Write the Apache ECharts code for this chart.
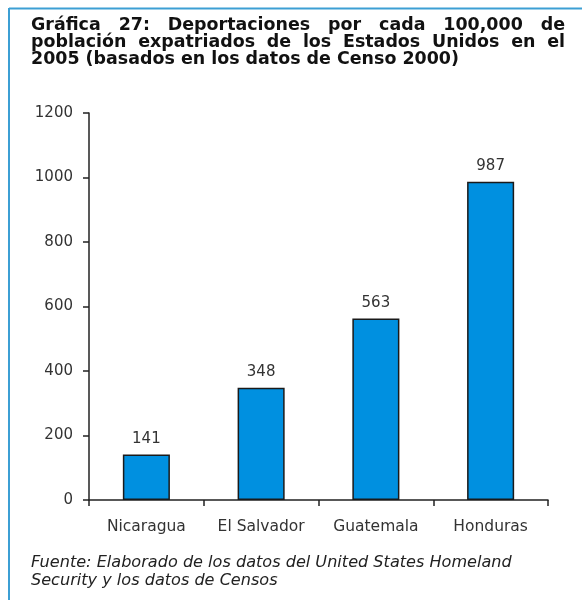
<!DOCTYPE html>
<html>
<head>
<meta charset="utf-8">
<script src="https://cdn.jsdelivr.net/npm/echarts@6/dist/echarts.min.js"></script>
<style>
  html, body { margin: 0; padding: 0; background: #fff; }
  #chart { width: 582px; height: 607px; }
</style>
</head>
<body>
<div id="chart"></div>
<script>
// datos
const paises = ["Nicaragua", "El Salvador", "Guatemala", "Honduras"];
const deportaciones = [141, 348, 563, 987];
const tituloLineas = [
  "Gráfica 27: Deportaciones por cada 100,000 de",
  "población expatriados de los Estados Unidos en el",
  "2005 (basados en los datos de Censo 2000)"
];
const fuenteLineas = [
  "Fuente: Elaborado de los datos del United States Homeland",
  "Security y los datos de Censos"
];

const FONT = "'DejaVu Sans', sans-serif";
const ctx = document.createElement("canvas").getContext("2d");

// tamano de letra para que un texto ocupe un ancho dado
function tamanoPara(texto, estilo, ancho) {
  ctx.font = estilo + " 20px " + FONT;
  return 20 * ancho / ctx.measureText(texto).width;
}
const titleSize = tamanoPara(tituloLineas[2], "bold", 428);
const titleFont = "bold " + titleSize.toFixed(2) + "px " + FONT;
const srcSize = tamanoPara(fuenteLineas[0], "italic", 481);
const srcFont = "italic " + srcSize.toFixed(2) + "px " + FONT;

function lineaJustificada(texto, y, x0, x1, justificar) {
  ctx.font = titleFont;
  const palabras = texto.split(" ");
  const anchos = palabras.map(w => ctx.measureText(w).width);
  const total = anchos.reduce((a, b) => a + b, 0);
  const hueco = justificar
    ? (x1 - x0 - total) / (palabras.length - 1)
    : ctx.measureText(" ").width;
  let x = x0;
  return palabras.map((w, i) => {
    const el = {
      type: "text",
      left: x,
      top: y,
      style: { text: w, font: titleFont, fill: "#111" }
    };
    x += anchos[i] + hueco;
    return el;
  });
}

let elementos = [
  // marco azul arriba e izquierda
  { type: "line", shape: { x1: 9, y1: 8.5, x2: 582, y2: 8.5 }, style: { stroke: "#3c9fd4", lineWidth: 2 } },
  { type: "line", shape: { x1: 9, y1: 8, x2: 9, y2: 600 }, style: { stroke: "#3c9fd4", lineWidth: 2 } }
];
tituloLineas.forEach((t, i) => {
  elementos = elementos.concat(lineaJustificada(t, 17 + i * 17, 31, 565, i < 2));
});
fuenteLineas.forEach((t, i) => {
  elementos.push({
    type: "text",
    left: 31,
    top: 555 + i * 18,
    style: { text: t, font: srcFont, fill: "#222" }
  });
});

const chart = echarts.init(document.getElementById("chart"));
chart.setOption({
  animation: false,
  textStyle: { fontFamily: FONT },
  graphic: elementos,
  grid: { left: 89, right: 34, top: 113, bottom: 107 },
  xAxis: {
    type: "category",
    data: paises,
    axisLine: { lineStyle: { color: "#222", width: 1.5 } },
    axisTick: { show: true, interval: 0, length: 6, lineStyle: { color: "#222", width: 1.5 } },
    axisLabel: { color: "#333", fontSize: 15.5, margin: 19, interval: 0, hideOverlap: false, fontFamily: FONT }
  },
  yAxis: {
    type: "value",
    min: 0,
    max: 1200,
    interval: 200,
    splitLine: { show: false },
    axisLine: { show: true, lineStyle: { color: "#222", width: 1.5 } },
    axisTick: { show: true, length: 6, lineStyle: { color: "#222", width: 1.5 } },
    axisLabel: { color: "#333", fontSize: 15, margin: 16, fontFamily: FONT, formatter: v => String(v) }
  },
  series: [{
    type: "bar",
    data: deportaciones,
    barWidth: "41%",
    itemStyle: { color: "#0090e0", borderColor: "#1a1a1a", borderWidth: 1.5 },
    label: { show: true, position: "top", distance: 8, color: "#333", fontSize: 15, fontFamily: FONT }
  }]
});
</script>
</body>
</html>
